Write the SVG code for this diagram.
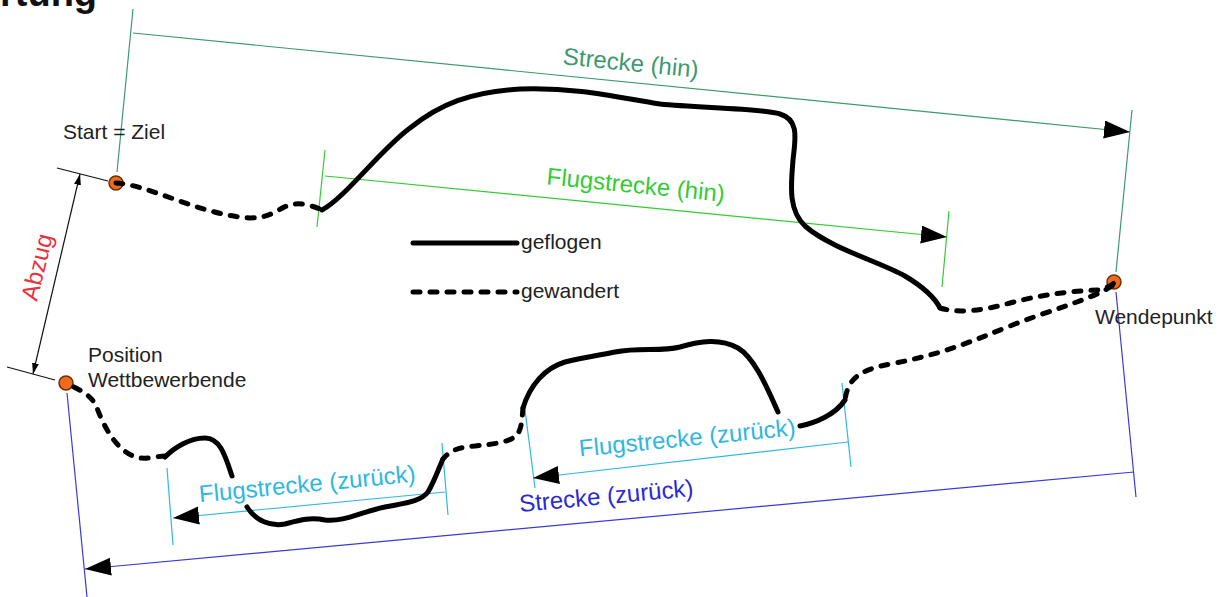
<svg xmlns="http://www.w3.org/2000/svg" width="1224" height="597" viewBox="0 0 1224 597">
<defs>
<marker id="arr" markerUnits="userSpaceOnUse" markerWidth="28" markerHeight="20" refX="26" refY="9" orient="auto-start-reverse"><path d="M0,0 L26,9 L0,18 Z" fill="#000"/></marker>
<marker id="arrS" markerUnits="userSpaceOnUse" markerWidth="12" markerHeight="8" refX="11" refY="3.5" orient="auto-start-reverse"><path d="M0,0 L11,3.5 L0,7 Z" fill="#000"/></marker>
</defs>
<style>
.lbl{font-family:"Liberation Sans",Arial,sans-serif;font-size:21px;fill:#222}
.dl{font-family:"Liberation Sans",Arial,sans-serif;font-size:24px;text-anchor:middle}
.fly{fill:none;stroke:#000;stroke-width:5;stroke-linecap:round;stroke-linejoin:round}
.walk{fill:none;stroke:#000;stroke-width:5;stroke-linecap:round;stroke-dasharray:7 10}
.dot{fill:#ee6a1e;stroke:#6b3000;stroke-width:1.5}
.dim{fill:none;stroke-width:1.2}
.teal{stroke:#3d9970}
.green{stroke:#33cc33}
.cyan{stroke:#2fb8e0}
.blue{stroke:#3a3ad8}
.blk{stroke:#111}
</style>
<rect width="1224" height="597" fill="#fff"/>
<g id="title"><text x="0" y="6" font-family="'Liberation Sans',Arial,sans-serif" font-size="38" font-weight="bold" fill="#111">rtung</text></g>

<g id="dim-strecke-hin">
<path class="dim teal" d="M133,9 L117,172 M1132,110 L1116,272"/>
<path class="dim teal" d="M133,33 L1130,132" marker-end="url(#arr)"/>
<text class="dl" fill="#3d9970" transform="translate(630,71) rotate(5.67)">Strecke (hin)</text>
</g>
<g id="dim-flug-hin">
<path class="dim green" d="M325,150 L317,227 M949,211 L942,287"/>
<path class="dim green" d="M325,176 L947,237" marker-end="url(#arr)"/>
<text class="dl" fill="#33cc33" transform="translate(635,193) rotate(5.6)">Flugstrecke (hin)</text>
</g>
<g id="dim-strecke-zurueck">
<path class="dim blue" d="M1116,292 L1136,497 M67,393 L87,597"/>
<path class="dim blue" d="M1134,472 L85,569" marker-end="url(#arr)"/>
<text class="dl" fill="#2a2ad6" transform="translate(607,504) rotate(-5.3)">Strecke (zurück)</text>
</g>
<g id="dim-flug-zurueck-1">
<path class="dim cyan" d="M167,468 L173,545 M442,443 L448,515"/>
<path class="dim cyan" d="M445,492 L173,518" marker-end="url(#arr)"/>
<text class="dl" fill="#2fb8e0" transform="translate(308,492) rotate(-5.46)">Flugstrecke (zurück)</text>
</g>
<g id="dim-flug-zurueck-2">
<path class="dim cyan" d="M525,410 L535,488 M842,383 L851,467"/>
<path class="dim cyan" d="M848,442 L533,478" marker-end="url(#arr)"/>
<text class="dl" fill="#2fb8e0" transform="translate(688,446) rotate(-5.6)">Flugstrecke (zurück)</text>
</g>
<g id="dim-abzug">
<path class="dim blk" d="M57,168 L108,181 M7,367 L55,380"/>
<path class="dim blk" d="M80,174 L33,374" marker-start="url(#arrS)" marker-end="url(#arrS)"/>
<text font-family="'Liberation Sans',Arial,sans-serif" font-size="24" fill="#e8323c" text-anchor="middle" transform="translate(45,269) rotate(-76.6)">Abzug</text>
</g>

<g id="start-node"><circle class="dot" cx="116" cy="183" r="7"/></g>
<g id="wendepunkt-node"><circle class="dot" cx="1114" cy="282" r="7"/></g>
<g id="position-node"><circle class="dot" cx="66" cy="383" r="7"/></g>

<g id="connectors">
<path class="walk" d="M116,183 C150,185 200,215 250,218 C275,218 280,205 295,204 C305,203 315,207 322,210"/>
<path class="fly" d="M322,210 C345,198 380,150 410,128 C440,104 470,92 520,89 C580,87 620,98 660,104 C700,108 760,108 780,114 C800,120 795,140 793,160 C791,185 788,210 805,226 C830,248 880,262 905,276 C925,288 935,298 940,308"/>
<path class="walk" d="M940,308 C960,314 985,310 1010,303 C1040,295 1070,291 1098,290 C1105,289 1110,286 1114,283"/>
<path class="walk" d="M1112,286 C1090,300 1050,310 1010,326 C970,342 940,355 890,364 C860,370 848,378 845,400"/>
<path class="fly" d="M845,400 C835,415 815,423 800,426"/>
<path class="fly" d="M778,412 C768,390 755,358 738,348 C720,338 700,341 680,347 C660,352 640,347 615,352 C600,355 585,357 565,362 C545,368 530,385 523,408"/>
<path class="walk" d="M523,408 C522,418 522,428 517,435 C510,442 495,444 475,446 C460,447 450,450 443,459"/>
<path class="fly" d="M443,459 C440,465 435,480 428,492 C420,502 405,503 385,507 C360,512 345,522 325,520 C310,517 300,520 285,524 C270,527 255,520 247,507"/>
<path class="fly" d="M232,476 C225,455 220,438 205,438 C190,438 175,447 165,457"/>
<path class="walk" d="M165,456 C158,456 150,459 140,458 C120,455 105,430 97,408 C92,395 80,390 66,383"/>
</g>

<g id="legend">
<path class="fly" d="M413,243 L517,243"/>
<path class="walk" d="M413,292 L517,292"/>
<text class="lbl" x="521" y="249">geflogen</text>
<text class="lbl" x="521" y="298">gewandert</text>
</g>

<g id="labels">
<text class="lbl" x="63" y="139">Start = Ziel</text>
<text class="lbl" x="1095" y="324">Wendepunkt</text>
<text class="lbl" x="88" y="362">Position</text>
<text class="lbl" x="88" y="387">Wettbewerbende</text>
</g>
</svg>
